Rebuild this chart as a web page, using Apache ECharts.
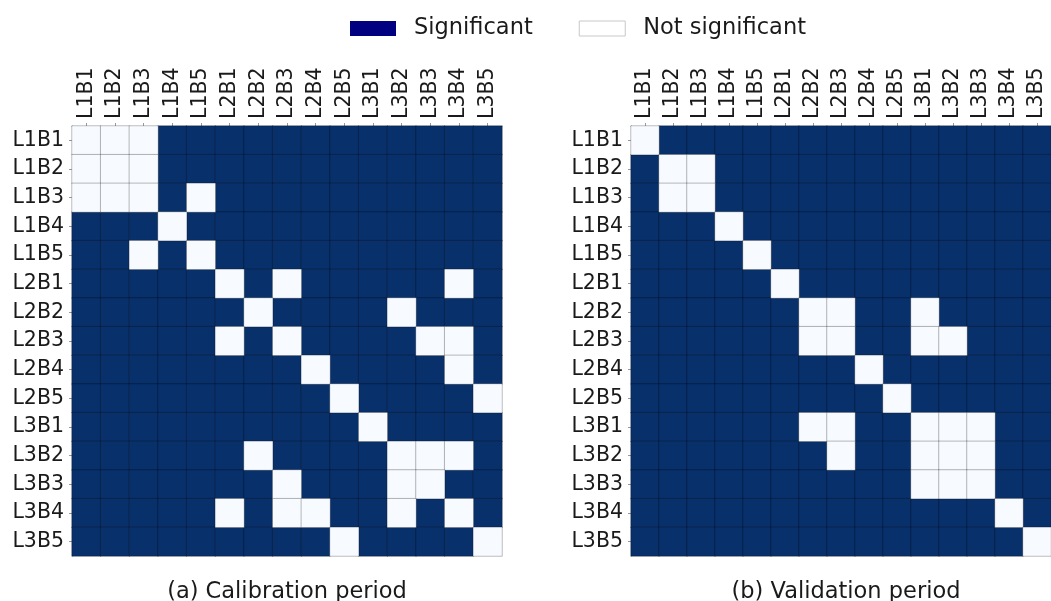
<!DOCTYPE html>
<html>
<head>
<meta charset="utf-8">
<script src="https://cdn.jsdelivr.net/npm/echarts@6/dist/echarts.min.js"></script>
<style>html,body{margin:0;padding:0;background:#fff}#c{width:1051px;height:601px}</style>
</head>
<body>
<div id="c"></div>
<script>
const labels = ['L1B1','L1B2','L1B3','L1B4','L1B5','L2B1','L2B2','L2B3','L2B4','L2B5','L3B1','L3B2','L3B3','L3B4','L3B5'];
const seriesNames = ['Significant', 'Not significant'];
const panelTitles = ['(a) Calibration period', '(b) Validation period'];
// 1 = not significant, 0 = significant; rows top->bottom, columns left->right
const calibration = [
  [1,1,1,0,0,0,0,0,0,0,0,0,0,0,0],
  [1,1,1,0,0,0,0,0,0,0,0,0,0,0,0],
  [1,1,1,0,1,0,0,0,0,0,0,0,0,0,0],
  [0,0,0,1,0,0,0,0,0,0,0,0,0,0,0],
  [0,0,1,0,1,0,0,0,0,0,0,0,0,0,0],
  [0,0,0,0,0,1,0,1,0,0,0,0,0,1,0],
  [0,0,0,0,0,0,1,0,0,0,0,1,0,0,0],
  [0,0,0,0,0,1,0,1,0,0,0,0,1,1,0],
  [0,0,0,0,0,0,0,0,1,0,0,0,0,1,0],
  [0,0,0,0,0,0,0,0,0,1,0,0,0,0,1],
  [0,0,0,0,0,0,0,0,0,0,1,0,0,0,0],
  [0,0,0,0,0,0,1,0,0,0,0,1,1,1,0],
  [0,0,0,0,0,0,0,1,0,0,0,1,1,0,0],
  [0,0,0,0,0,1,0,1,1,0,0,1,0,1,0],
  [0,0,0,0,0,0,0,0,0,1,0,0,0,0,1]
];
const validation = [
  [1,0,0,0,0,0,0,0,0,0,0,0,0,0,0],
  [0,1,1,0,0,0,0,0,0,0,0,0,0,0,0],
  [0,1,1,0,0,0,0,0,0,0,0,0,0,0,0],
  [0,0,0,1,0,0,0,0,0,0,0,0,0,0,0],
  [0,0,0,0,1,0,0,0,0,0,0,0,0,0,0],
  [0,0,0,0,0,1,0,0,0,0,0,0,0,0,0],
  [0,0,0,0,0,0,1,1,0,0,1,0,0,0,0],
  [0,0,0,0,0,0,1,1,0,0,1,1,0,0,0],
  [0,0,0,0,0,0,0,0,1,0,0,0,0,0,0],
  [0,0,0,0,0,0,0,0,0,1,0,0,0,0,0],
  [0,0,0,0,0,0,1,1,0,0,1,1,1,0,0],
  [0,0,0,0,0,0,0,1,0,0,1,1,1,0,0],
  [0,0,0,0,0,0,0,0,0,0,1,1,1,0,0],
  [0,0,0,0,0,0,0,0,0,0,0,0,0,1,0],
  [0,0,0,0,0,0,0,0,0,0,0,0,0,0,1]
];

const FONT = 'DejaVu Sans';
const TXT = '#1a1a1a';
const DARK = '#08306b';
const LIGHT = '#f7fbff';

function cells(mat, flag) {
  const out = [];
  mat.forEach((row, r) => row.forEach((v, c) => { if (v === flag) out.push([c, r, v]); }));
  return out;
}

const grids = [
  {left: 72, top: 126, width: 430, height: 430},
  {left: 631, top: 126, width: 430, height: 430}
];
const xAxes = [], yAxes = [], series = [];
[calibration, validation].forEach((mat, i) => {
  xAxes.push({
    type: 'category', data: labels, gridIndex: i, position: 'top',
    axisLine: {show: true, lineStyle: {color: '#999', width: 1}},
    axisTick: {show: true, alignWithLabel: true, length: 3, lineStyle: {color: '#999'}},
    axisLabel: {rotate: -90, margin: 7, fontSize: 20.5, color: TXT, fontFamily: FONT, interval: 0},
    splitLine: {show: false}
  });
  yAxes.push({
    type: 'category', data: labels, gridIndex: i, inverse: true,
    axisLine: {show: true, lineStyle: {color: '#999', width: 1}},
    axisTick: {show: true, alignWithLabel: true, length: 3, lineStyle: {color: '#999'}},
    axisLabel: {margin: 8, fontSize: 20.5, color: TXT, fontFamily: FONT, interval: 0},
    splitLine: {show: false}
  });
  series.push({
    name: seriesNames[0], type: 'heatmap', xAxisIndex: i, yAxisIndex: i,
    data: cells(mat, 0),
    itemStyle: {color: DARK, borderColor: 'rgba(0,0,0,0.28)', borderWidth: 1},
    emphasis: {disabled: true}
  });
  series.push({
    name: seriesNames[1], type: 'heatmap', xAxisIndex: i, yAxisIndex: i,
    data: cells(mat, 1),
    itemStyle: {color: LIGHT, borderColor: 'rgba(0,0,0,0.25)', borderWidth: 1},
    emphasis: {disabled: true}
  });
});

const chart = echarts.init(document.getElementById('c'), null, {renderer: 'canvas'});
chart.setOption({
  animation: false,
  backgroundColor: '#fff',
  legend: {
    left: 345, top: 12, selectedMode: false,
    itemWidth: 46, itemHeight: 15, itemGap: 46,
    icon: 'rect',
    textStyle: {fontSize: 22.5, color: TXT, fontFamily: FONT, padding: [0, 0, 0, 13]},
    data: [
      {name: seriesNames[0], itemStyle: {color: '#000080', borderWidth: 0}},
      {name: seriesNames[1], itemStyle: {color: '#ffffff', borderColor: '#c8c8c8', borderWidth: 1}}
    ]
  },
  grid: grids,
  xAxis: xAxes,
  yAxis: yAxes,
  series: series,
  graphic: [
    {type: 'text', x: 287, y: 592, style: {text: panelTitles[0], fontSize: 22.5, fontFamily: FONT, fill: TXT, textAlign: 'center', textVerticalAlign: 'middle'}},
    {type: 'text', x: 846, y: 592, style: {text: panelTitles[1], fontSize: 22.5, fontFamily: FONT, fill: TXT, textAlign: 'center', textVerticalAlign: 'middle'}}
  ]
});
</script>
</body>
</html>
